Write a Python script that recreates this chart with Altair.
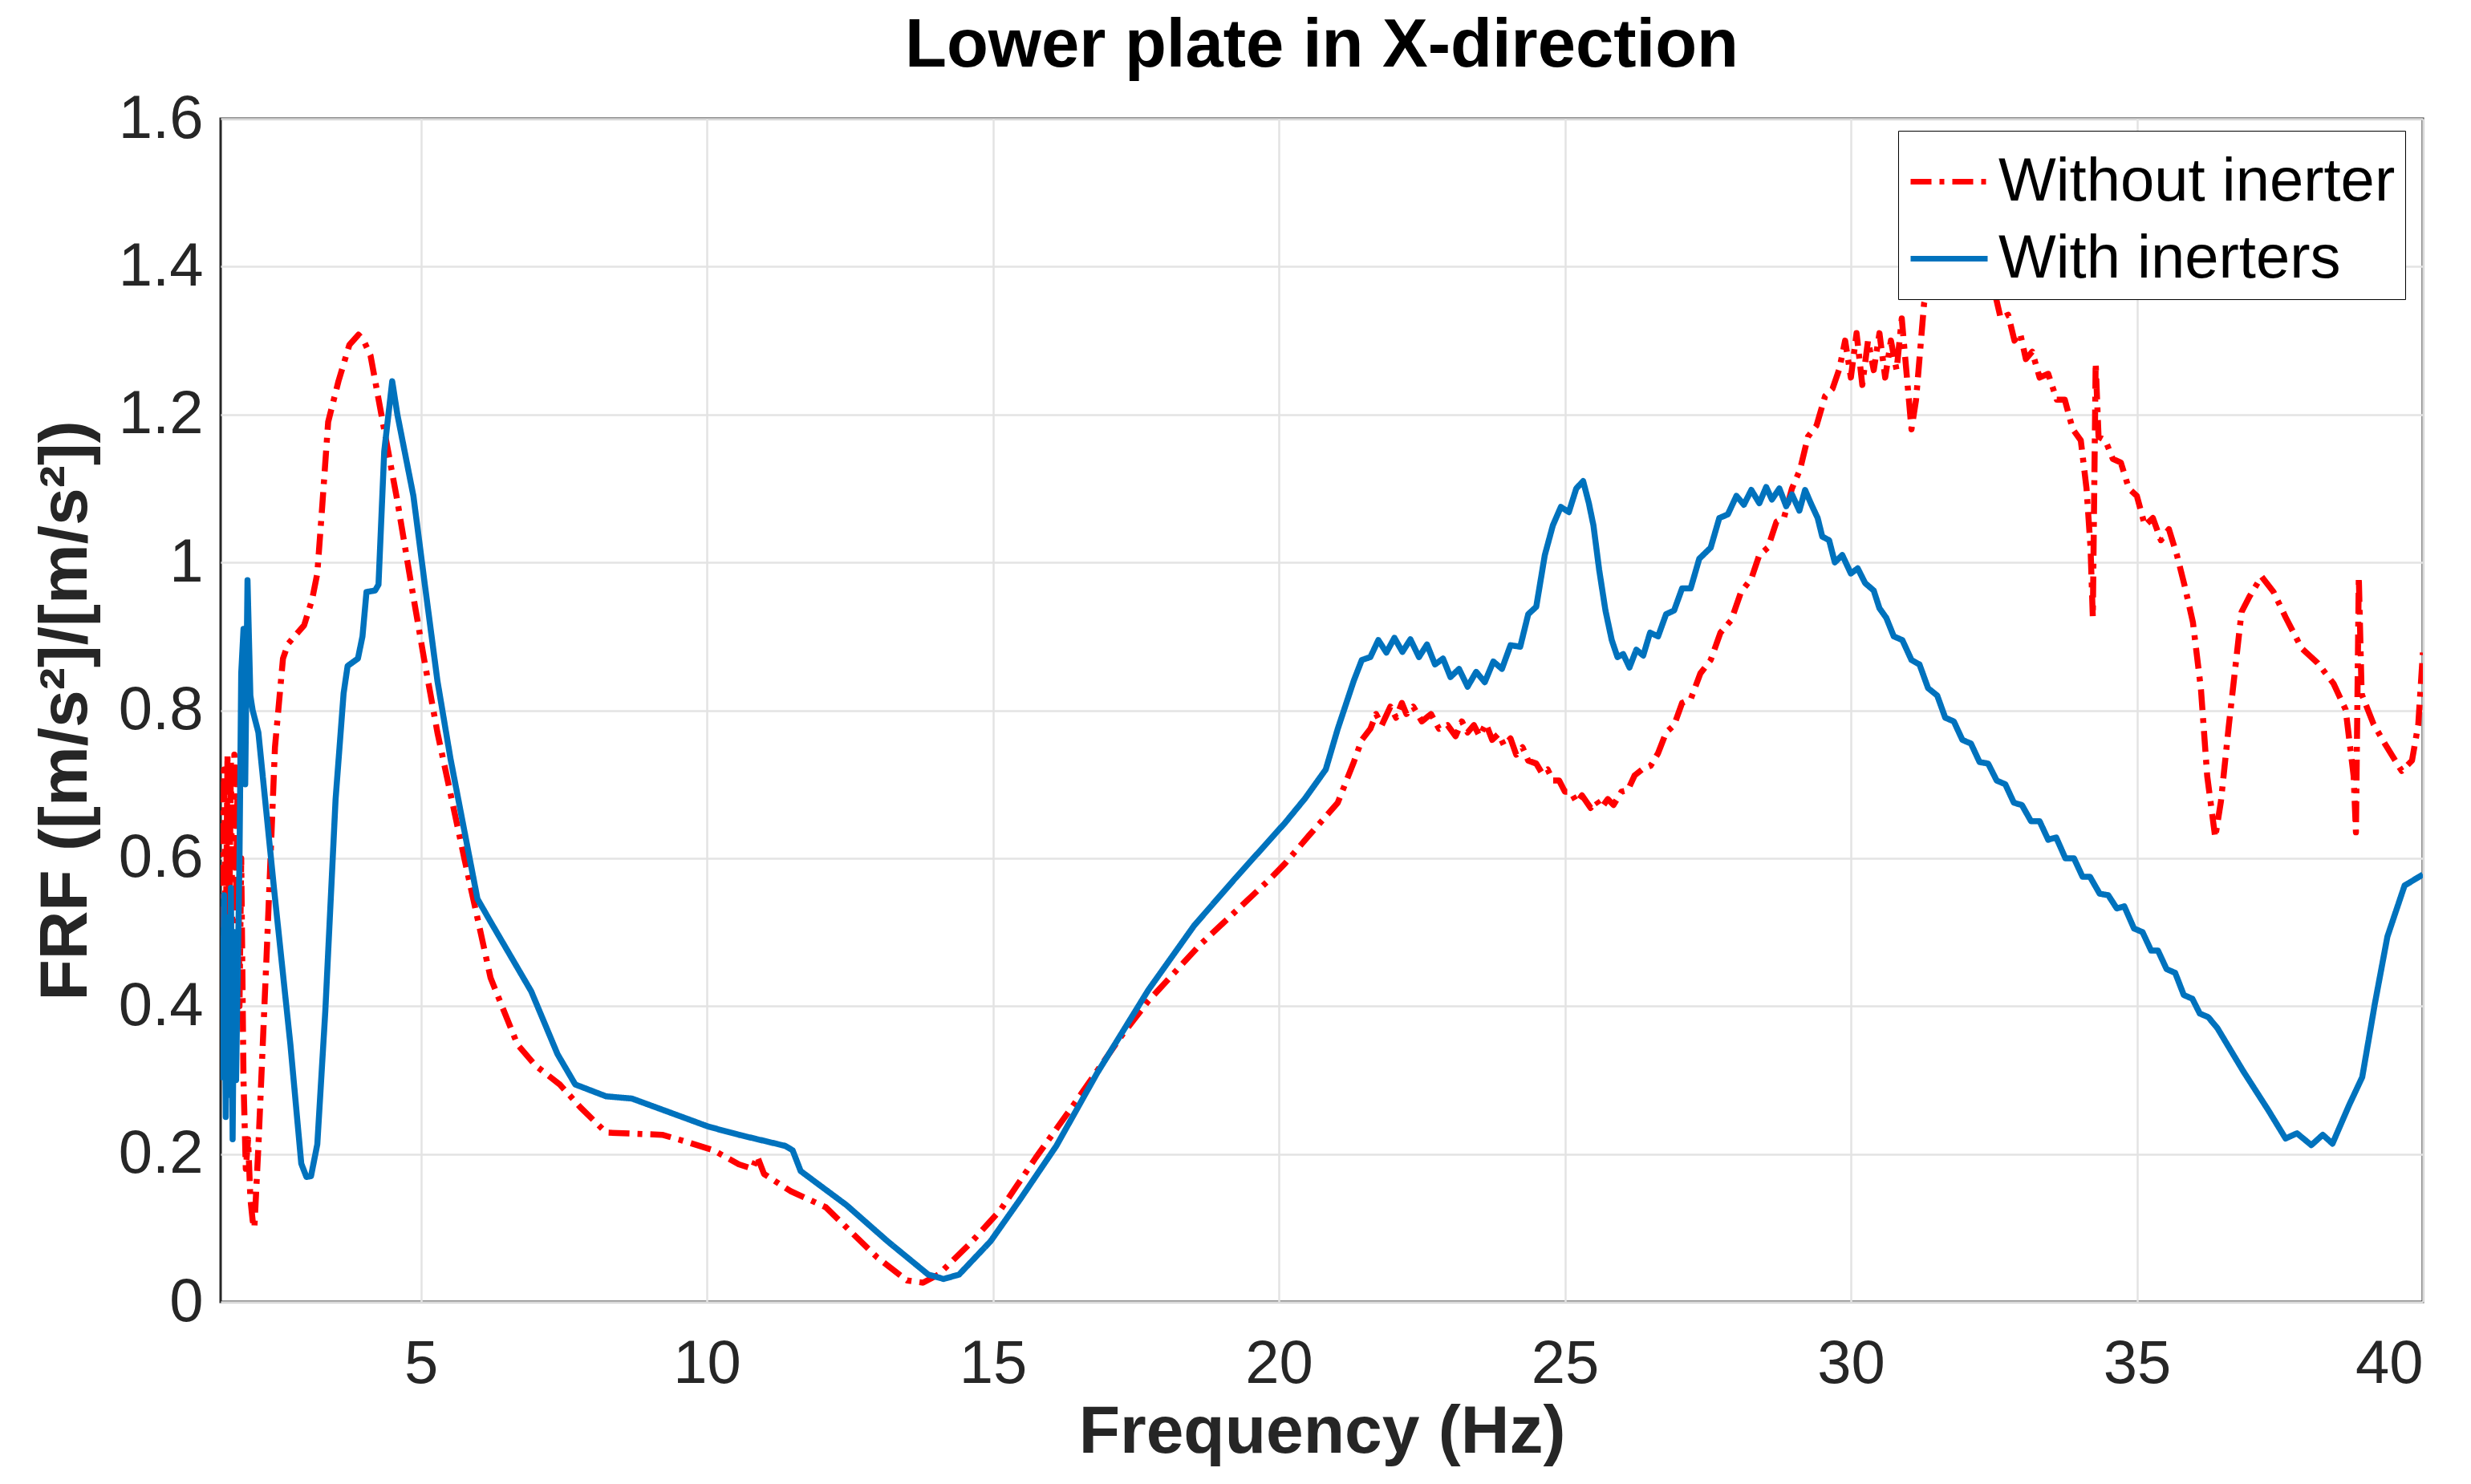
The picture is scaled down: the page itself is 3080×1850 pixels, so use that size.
import altair as alt
import pandas as pd

# ---- data ----
freq_without = [1.53, 1.56, 1.59, 1.62, 1.65, 1.68, 1.71, 1.74, 1.77, 1.80, 1.83, 1.86, 1.90, 1.94, 1.98,
                2.02, 2.06, 2.09, 2.16, 2.31, 2.45, 2.59, 2.68, 2.96, 3.10, 3.19, 3.28, 3.38, 3.56, 3.75,
                3.91, 4.00, 4.12, 4.31, 4.59, 4.82, 5.06, 5.29, 5.76, 6.22, 6.69, 7.00, 7.43, 7.79, 8.24,
                9.22, 9.58, 10.12, 10.56, 10.80, 10.88, 11.00, 11.46, 12.08, 12.53, 12.98, 13.50, 13.78,
                14.05, 14.59, 15.13, 15.75, 16.38, 17.27, 17.72, 18.61, 19.86, 20.11, 20.53, 21.03, 21.31,
                21.45, 21.60, 21.70, 21.80, 21.95, 22.05, 22.15, 22.23, 22.35, 22.50, 22.66, 22.80, 22.95,
                23.09, 23.20, 23.30, 23.41, 23.51, 23.62, 23.73, 23.84, 23.94, 24.05, 24.15, 24.26, 24.36,
                24.50, 24.60, 24.70, 24.79, 24.90, 25.00, 25.10, 25.21, 25.30, 25.45, 25.55, 25.64, 25.75,
                25.85, 25.99, 26.10, 26.22, 26.35, 26.50, 26.63, 26.77, 26.91, 27.05, 27.20, 27.37, 27.55,
                27.72, 27.91, 28.08, 28.26, 28.40, 28.55, 28.70, 28.83, 28.97, 29.11, 29.25, 29.40, 29.55,
                29.68, 29.80, 29.90, 30.00, 30.10, 30.20, 30.30, 30.40, 30.50, 30.60, 30.70, 30.80, 30.89,
                31.06, 31.14, 31.28, 31.50, 31.80, 32.10, 32.50, 32.62, 32.75, 32.86, 32.96, 33.06, 33.17,
                33.30, 33.45, 33.60, 33.74, 33.88, 34.02, 34.12, 34.19, 34.23, 34.28, 34.33, 34.45, 34.58,
                34.72, 34.86, 35.00, 35.14, 35.28, 35.42, 35.56, 35.70, 35.84, 35.98, 36.12, 36.23, 36.37,
                36.47, 36.61, 36.83, 36.97, 37.18, 37.39, 37.60, 37.88, 38.16, 38.44, 38.65, 38.79, 38.83,
                38.88, 38.93, 39.14, 39.35, 39.63, 39.81, 39.92, 40.00]
frf_without = [0.45, 0.72, 0.48, 0.74, 0.50, 0.73, 0.46, 0.74, 0.55, 0.72, 0.40, 0.60, 0.30, 0.18, 0.22,
               0.14, 0.11, 0.10, 0.21, 0.48, 0.75, 0.87, 0.89, 0.915, 0.95, 0.985, 1.08, 1.19, 1.245, 1.294,
               1.308, 1.30, 1.28, 1.20, 1.083, 0.976, 0.868, 0.77, 0.60, 0.438, 0.348, 0.32, 0.294, 0.263, 0.229,
               0.226, 0.218, 0.205, 0.186, 0.18, 0.197, 0.173, 0.150, 0.128, 0.094, 0.060, 0.029, 0.026,
               0.037, 0.078, 0.124, 0.195, 0.263, 0.362, 0.407, 0.482, 0.573, 0.593, 0.631, 0.675, 0.730,
               0.760, 0.775, 0.795, 0.780, 0.805, 0.790, 0.810, 0.795, 0.805, 0.785, 0.795, 0.775, 0.780,
               0.765, 0.785, 0.770, 0.780, 0.765, 0.782, 0.760, 0.768, 0.752, 0.762, 0.740, 0.750, 0.732,
               0.728, 0.715, 0.720, 0.705, 0.705, 0.690, 0.690, 0.675, 0.685, 0.668, 0.678, 0.668, 0.680,
               0.672, 0.690, 0.692, 0.712, 0.720, 0.725, 0.742, 0.770, 0.780, 0.810, 0.815, 0.850, 0.868,
               0.905, 0.922, 0.960, 0.978, 1.010, 1.020, 1.055, 1.060, 1.100, 1.125, 1.170, 1.185, 1.225,
               1.235, 1.262, 1.300, 1.25, 1.31, 1.24, 1.30, 1.26, 1.31, 1.25, 1.30, 1.26, 1.33,
               1.18, 1.22, 1.35, 1.42, 1.46, 1.45, 1.37, 1.33, 1.335, 1.30, 1.31, 1.275, 1.285,
               1.25, 1.255, 1.22, 1.22, 1.18, 1.165, 1.10, 1.02, 0.926, 1.27, 1.17, 1.165, 1.14,
               1.135, 1.10, 1.09, 1.05, 1.06, 1.03, 1.045, 1.01, 0.967, 0.919, 0.829, 0.711, 0.628,
               0.677, 0.781, 0.933, 0.954, 0.981, 0.960, 0.926, 0.884, 0.864, 0.836, 0.801, 0.711, 0.635,
               0.981, 0.822, 0.781, 0.753, 0.718, 0.732, 0.781, 0.878]

freq_with = [1.53, 1.56, 1.59, 1.62, 1.65, 1.68, 1.71, 1.74, 1.77, 1.80, 1.83, 1.86, 1.90, 1.93, 1.97,
             2.02, 2.06, 2.16, 2.44, 2.72, 2.91, 3.00, 3.08, 3.19, 3.33, 3.51, 3.65, 3.72, 3.90, 3.98,
             4.05, 4.20, 4.26, 4.36, 4.50, 4.59, 4.87, 5.06, 5.29, 5.52, 5.99, 6.22, 6.93, 7.39, 7.70,
             8.24, 8.69, 9.22, 10.03, 10.56, 11.37, 11.50, 11.64, 11.90, 12.44, 13.16, 13.87, 14.14,
             14.41, 14.96, 15.48, 16.11, 16.82, 17.72, 18.52, 19.24, 20.11, 20.46, 20.82, 21.03, 21.31,
             21.45, 21.60, 21.74, 21.88, 22.02, 22.16, 22.30, 22.45, 22.59, 22.73, 22.87, 23.00, 23.15,
             23.30, 23.45, 23.60, 23.75, 23.90, 24.05, 24.22, 24.36, 24.50, 24.65, 24.79, 24.93, 25.07,
             25.20, 25.32, 25.42, 25.50, 25.60, 25.71, 25.82, 25.92, 26.02, 26.13, 26.25, 26.37, 26.49,
             26.63, 26.77, 26.91, 27.05, 27.20, 27.35, 27.55, 27.70, 27.85, 28.00, 28.13, 28.26, 28.40,
             28.52, 28.62, 28.75, 28.87, 28.97, 29.10, 29.20, 29.30, 29.42, 29.50, 29.62, 29.72, 29.85,
             30.00, 30.12, 30.25, 30.40, 30.50, 30.62, 30.75, 30.90, 31.06, 31.20, 31.35, 31.51, 31.65,
             31.80, 31.95, 32.10, 32.25, 32.40, 32.55, 32.70, 32.85, 32.99, 33.15, 33.30, 33.45, 33.59,
             33.75, 33.90, 34.05, 34.18, 34.35, 34.50, 34.65, 34.78, 34.95, 35.10, 35.25, 35.37, 35.52,
             35.67, 35.82, 35.97, 36.10, 36.25, 36.41, 36.86, 37.30, 37.60, 37.80, 38.05, 38.25, 38.42,
             38.71, 38.94, 39.16, 39.38, 39.68, 40.00]
frf_with = [0.30, 0.55, 0.25, 0.52, 0.28, 0.56, 0.22, 0.50, 0.30, 0.45, 0.60, 0.85, 0.91, 0.70, 0.976,
            0.82, 0.80, 0.77, 0.554, 0.348, 0.187, 0.169, 0.170, 0.213, 0.393, 0.68, 0.823, 0.86, 0.87, 0.90,
            0.96, 0.962, 0.97, 1.15, 1.245, 1.20, 1.09, 0.976, 0.84, 0.734, 0.545, 0.514, 0.42, 0.335, 0.294,
            0.278, 0.275, 0.26, 0.237, 0.226, 0.211, 0.205, 0.177, 0.162, 0.131, 0.082, 0.037, 0.031,
            0.037, 0.082, 0.139, 0.211, 0.309, 0.422, 0.509, 0.573, 0.648, 0.681, 0.720, 0.775, 0.840,
            0.868, 0.872, 0.895, 0.878, 0.898, 0.879, 0.896, 0.872, 0.889, 0.862, 0.870, 0.845, 0.856,
            0.832, 0.852, 0.838, 0.866, 0.856, 0.888, 0.886, 0.930, 0.940, 1.010, 1.050, 1.075, 1.068,
            1.100, 1.110, 1.080, 1.050, 0.990, 0.935, 0.895, 0.872, 0.876, 0.858, 0.882, 0.874, 0.905,
            0.900, 0.930, 0.935, 0.965, 0.965, 1.005, 1.020, 1.060, 1.065, 1.090, 1.078, 1.098, 1.080,
            1.102, 1.085, 1.100, 1.076, 1.092, 1.070, 1.098, 1.080, 1.060, 1.035, 1.030, 1.000, 1.010,
            0.985, 0.992, 0.972, 0.962, 0.938, 0.925, 0.900, 0.895, 0.868, 0.862, 0.830, 0.820, 0.790,
            0.785, 0.760, 0.755, 0.730, 0.728, 0.705, 0.700, 0.675, 0.672, 0.650, 0.650, 0.625, 0.628,
            0.600, 0.600, 0.575, 0.575, 0.552, 0.550, 0.532, 0.535, 0.505, 0.500, 0.475, 0.475, 0.450,
            0.445, 0.415, 0.410, 0.390, 0.385, 0.370, 0.312, 0.259, 0.221, 0.228, 0.212, 0.226, 0.214,
            0.266, 0.304, 0.403, 0.494, 0.563, 0.578]

series_names = ["Without inerter", "With inerters"]
series_colors = ["#FF0000", "#0072BD"]
x_ticks = [5, 10, 15, 20, 25, 30, 35, 40]
y_ticks = [0, 0.2, 0.4, 0.6, 0.8, 1.0, 1.2, 1.4, 1.6]

df = pd.concat([
    pd.DataFrame({"f": freq_without, "v": frf_without, "series": series_names[0], "k": 0}),
    pd.DataFrame({"f": freq_with, "v": frf_with, "series": series_names[1], "k": 1}),
], ignore_index=True)

FONT = "Liberation Sans"

legend = alt.Legend(
    title=None, orient="none", legendX=2091, legendY=15,
    symbolType="stroke", symbolSize=9216, symbolStrokeWidth=7,
    labelFont=FONT, labelFontSize=76, labelColor="black", labelOffset=10,
    padding=12, rowPadding=6, strokeColor="black", fillColor="white",
    cornerRadius=0, labelLimit=1000,
)

chart = alt.Chart(df).mark_line(clip=True, strokeWidth=7.5, strokeCap="butt", strokeJoin="round").encode(
    x=alt.X("f:Q", scale=alt.Scale(domain=[1.5, 40], nice=False, zero=False),
            axis=alt.Axis(values=x_ticks, format="d", title="Frequency (Hz)", ticks=False,
                          labelPadding=40, titlePadding=6)),
    y=alt.Y("v:Q", scale=alt.Scale(domain=[0, 1.6], nice=False),
            axis=alt.Axis(values=y_ticks, format=".1~f", title="FRF ([m/s²]/[m/s²])", ticks=False,
                          labelPadding=22, titlePadding=22)),
    color=alt.Color("series:N", scale=alt.Scale(domain=series_names, range=series_colors), legend=legend),
    strokeDash=alt.StrokeDash("series:N", scale=alt.Scale(domain=series_names, range=[[26, 10, 6, 10], [1, 0]]),
                              legend=legend),
    detail="series:N",
    order="k:Q",
).properties(
    width=2745, height=1475,
    autosize=alt.AutoSizeParams(type="none"),
    padding={"left": 267, "top": 140, "right": 52, "bottom": 222},
    title=alt.TitleParams("Lower plate in X-direction", font=FONT, fontSize=85, fontWeight="bold",
                          color="black", anchor="middle", baseline="alphabetic", offset=-58),
).configure_view(
    stroke="#262626", strokeWidth=3,
).configure_axis(
    grid=True, gridColor="#E3E3E3", gridWidth=2.5, domain=False,
    labelFont=FONT, labelFontSize=76, labelColor="#262626",
    titleFont=FONT, titleFontSize=84, titleFontWeight="bold", titleColor="#262626",
)

chart.save("out.html", embed_options={"renderer": "svg", "actions": False})
